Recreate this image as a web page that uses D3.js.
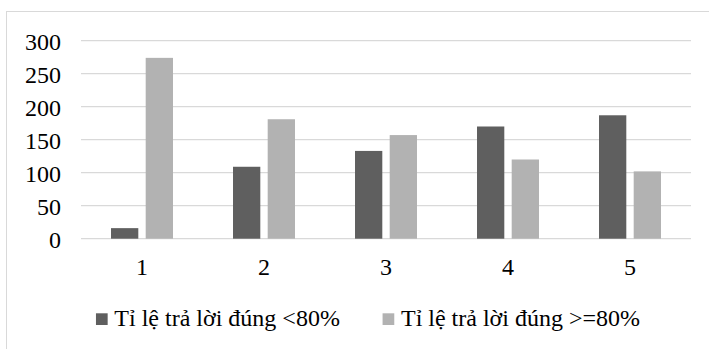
<!DOCTYPE html>
<html>
<head>
<meta charset="utf-8">
<script src="https://cdn.jsdelivr.net/npm/d3@7"></script>
<style>
  html, body { margin: 0; padding: 0; background: #fff; }
  svg { display: block; }
  svg text { font-family: "Liberation Serif", Tinos, "Times New Roman", Times, "DejaVu Serif", serif !important; fill: #000; }
</style>
</head>
<body>
<svg id="chart" width="709" height="349"></svg>
<script>
const categories = ["1", "2", "3", "4", "5"];
const seriesNames = ["Tỉ lệ trả lời đúng <80%", "Tỉ lệ trả lời đúng >=80%"];
const seriesLow = [16, 109, 133, 170, 187];
const seriesHigh = [274, 181, 157, 120, 102];
const yTicks = [0, 50, 100, 150, 200, 250, 300];
const colors = ["#5f5f5f", "#b2b2b2"];

const svg = d3.select("#chart");
const fontSize = 24;

// outer frame
svg.append("rect")
  .attr("x", 6.5).attr("y", 11.5)
  .attr("width", 722).attr("height", 400)
  .attr("fill", "none").attr("stroke", "#d9d9d9").attr("stroke-width", 1);

const plot = { left: 81, right: 691, top: 40.7, bottom: 238.7 };

const x = d3.scaleBand().domain(categories)
  .range([plot.left, plot.right])
  .paddingInner(0.492).paddingOuter(0.246);
const xs = d3.scaleBand().domain(seriesNames)
  .range([0, x.bandwidth()]).paddingInner(0.213);
const y = d3.scaleLinear().domain([0, 300]).range([plot.bottom, plot.top]);

// gridlines
svg.append("g").selectAll("line").data(yTicks).join("line")
  .attr("x1", plot.left).attr("x2", plot.right)
  .attr("y1", d => y(d)).attr("y2", d => y(d))
  .attr("stroke", "#d9d9d9").attr("stroke-width", 1.3);

// y axis labels
const yAxis = d3.axisLeft(y).tickValues(yTicks).tickSize(0).tickPadding(20).tickFormat(d3.format("d"));
const gy = svg.append("g").attr("transform", `translate(${plot.left},0)`).call(yAxis);
gy.attr("font-family", null).attr("font-size", null);
gy.select(".domain").remove();
gy.selectAll("text").attr("font-size", fontSize).attr("fill", "#000").attr("dy", "0.35em");

// bars
const data = categories.map((c, i) => ({ cat: c, vals: [seriesLow[i], seriesHigh[i]] }));
const groups = svg.append("g").selectAll("g").data(data).join("g")
  .attr("transform", d => `translate(${x(d.cat)},0)`);
groups.selectAll("rect").data(d => d.vals.map((v, j) => ({ v, s: seriesNames[j], j })))
  .join("rect")
  .attr("x", d => xs(d.s))
  .attr("width", xs.bandwidth())
  .attr("y", d => y(d.v))
  .attr("height", d => y(0) - y(d.v))
  .attr("fill", d => colors[d.j]);

// x axis labels
const xAxis = d3.axisBottom(x).tickSize(0).tickPadding(19.7);
const gx = svg.append("g").attr("transform", `translate(0,${plot.bottom})`).call(xAxis);
gx.attr("font-family", null).attr("font-size", null);
gx.select(".domain").remove();
gx.selectAll("text").attr("font-size", fontSize).attr("fill", "#000").attr("dy", "0.69em");

// legend
const legend = svg.append("g");
const sq = 11.7, sqGap = 6.7, itemGap = 42.7, baseline = 326, legendCenter = 368;
const items = legend.selectAll("g").data(seriesNames).join("g");
items.append("rect").attr("width", sq).attr("height", sq)
  .attr("y", baseline - 12.7)
  .attr("fill", (d, i) => colors[i]);
items.append("text").attr("x", sq + sqGap).attr("y", baseline)
  .attr("font-size", fontSize).text(d => d);
const widths = [];
items.each(function () { widths.push(sq + sqGap + d3.select(this).select("text").node().getComputedTextLength()); });
const total = d3.sum(widths) + itemGap * (widths.length - 1);
let cx = legendCenter - total / 2;
items.each(function (d, i) {
  d3.select(this).attr("transform", `translate(${cx},0)`);
  cx += widths[i] + itemGap;
});
</script>
</body>
</html>
